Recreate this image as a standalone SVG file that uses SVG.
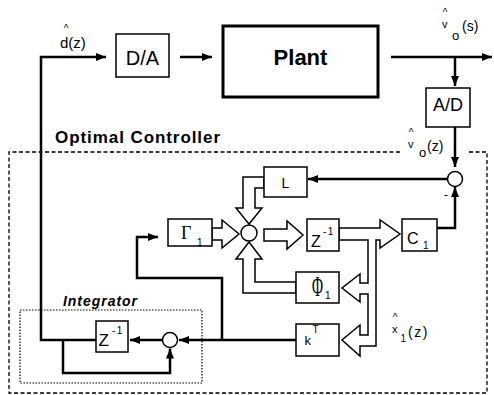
<svg xmlns="http://www.w3.org/2000/svg" width="494" height="395" viewBox="0 0 494 395">
<defs>
<style>
.box{fill:#fff;stroke:#000;stroke-width:1.5}
.thick{fill:none;stroke:#000;stroke-width:2.5}
.hollow{fill:#fff;stroke:#000;stroke-width:1.5;stroke-linejoin:miter}
.sum{fill:#fff;stroke:#000;stroke-width:1.5}
.t{font-family:"Liberation Sans",Arial,sans-serif;fill:#000}
.s{font-family:"Liberation Serif","Times New Roman",serif;fill:#000}
.c{text-anchor:middle}
.hat{font-family:"Liberation Sans",Arial,sans-serif;fill:#000;font-size:10px;text-anchor:middle}
</style>
<marker id="ah" viewBox="0 0 10 8" refX="10" refY="4" markerWidth="10" markerHeight="8" markerUnits="userSpaceOnUse" orient="auto">
<path d="M0,0 L10,4 L0,8 z" fill="#000"/>
</marker>
</defs>
<rect width="494" height="395" fill="#fff"/>

<g id="frames">
<path d="M400,152 H9 V393 H487 V152 H467" fill="none" stroke="#000" stroke-width="1.3" stroke-dasharray="4 2.5"/>
<rect x="20" y="310" width="182" height="73" fill="none" stroke="#000" stroke-width="1.2" stroke-dasharray="1.5 1.5"/>
<text class="t" x="55" y="143" font-size="17" font-weight="bold" textLength="165" lengthAdjust="spacing">Optimal Controller</text>
<text class="t" x="63" y="306" font-size="14" font-weight="bold" font-style="italic" textLength="74" lengthAdjust="spacing">Integrator</text>
</g>

<g id="connectors">
<path class="thick" d="M96,340 H41 V57 H106" marker-end="url(#ah)"/>
<path class="thick" d="M180,57 H212" marker-end="url(#ah)"/>
<path class="thick" d="M391,57 H492" marker-end="url(#ah)"/>
<path class="thick" d="M455,57 V86" marker-end="url(#ah)"/>
<path class="thick" d="M455,127 V167" marker-end="url(#ah)"/>
<path class="thick" d="M447.5,179 H308" marker-end="url(#ah)"/>
<path class="thick" d="M437,228 H455 V187" marker-end="url(#ah)"/>
<path class="thick" d="M296,340 H179" marker-end="url(#ah)"/>
<path class="thick" d="M222,340 V278 H137 V237 H158" marker-end="url(#ah)"/>
<path class="thick" d="M162.5,340 H130" marker-end="url(#ah)"/>
<path class="thick" d="M63,340 V373 H170 V348.5" marker-end="url(#ah)"/>
<polygon class="hollow" points="212,228 222,228 222,220 239,234 222,248 222,240 212,240"/>
<polygon class="hollow" points="264,229 287,229 287,221 303,235 287,249 287,241 264,241"/>
<polygon class="hollow" points="264,177 243,177 243,208 236,208 249,224 262,208 255,208 255,188 264,188"/>
<polygon class="hollow" points="296,282 255,282 255,259 262,259 249,242 236,259 243,259 243,293 296,293"/>
<polygon class="hollow" points="339,228 380,228 380,220 400,234 380,248 380,240 376,240 376,346 360,346 360,356 342,340 360,325 360,335 368,335 368,294 360,294 360,302 342,288 360,274 360,283 368,283 368,240 339,240"/>
</g>

<g id="da">
<rect class="box" x="116" y="34" width="53" height="43"/>
<text class="t c" x="142.5" y="65" font-size="20">D/A</text>
</g>
<g id="plant">
<rect x="223" y="26" width="155" height="71" fill="#fff" stroke="#000" stroke-width="3"/>
<text class="t c" x="300.5" y="65" font-size="22" font-weight="bold">Plant</text>
</g>
<g id="ad">
<rect class="box" x="426" y="88" width="44" height="39"/>
<text class="t c" x="448" y="111" font-size="18">A/D</text>
</g>
<g id="sum_out">
<circle class="sum" cx="455" cy="179" r="7.5"/>
<text class="t" x="444" y="199" font-size="12">-</text>
</g>
<g id="L">
<rect class="box" x="264" y="167" width="43" height="30"/>
<text class="t c" x="285.5" y="188" font-size="14">L</text>
</g>
<g id="gamma1">
<rect class="box" x="168" y="219" width="44" height="27"/>
<text class="s" x="181" y="238.5" font-size="18">Γ</text>
<text class="t" x="197" y="246" font-size="10">1</text>
</g>
<g id="sum_mid">
<circle class="sum" cx="249" cy="233" r="8"/>
</g>
<g id="zinv_mid">
<rect class="box" x="307" y="219" width="32" height="32"/>
<text class="t" x="311" y="247" font-size="16">Z</text>
<text class="t" x="323" y="235" font-size="10" letter-spacing="1.5">-1</text>
</g>
<g id="c1">
<rect class="box" x="402" y="219" width="35" height="32"/>
<text class="t" x="407" y="243.5" font-size="16">C</text>
<text class="t" x="423" y="249" font-size="10">1</text>
</g>
<g id="phi1">
<rect class="box" x="296" y="272" width="43" height="31"/>
<text class="s c" transform="translate(317.5,296) scale(0.5,1)" x="0" y="0" font-size="30">Φ</text>
<text class="t" x="325" y="299" font-size="10">1</text>
</g>
<g id="kT">
<rect class="box" x="296" y="324" width="43" height="32"/>
<text class="t" x="304.5" y="345" font-size="13">k</text>
<text class="t" x="312.5" y="333" font-size="10">T</text>
</g>
<g id="sum_int">
<circle class="sum" cx="170" cy="340" r="7.5"/>
</g>
<g id="zinv_int">
<rect class="box" x="96" y="321" width="32" height="31"/>
<text class="t" x="98.5" y="345.5" font-size="17">Z</text>
<text class="t" x="112" y="334" font-size="10" letter-spacing="1.5">-1</text>
</g>

<g id="labels">
<text class="hat" x="66" y="32">^</text>
<text class="t" x="60" y="48" font-size="15">d(z)</text>
<text class="hat" x="445" y="15.5">^</text>
<text class="t" x="442" y="28" font-size="11">v</text>
<text class="t" x="452" y="40" font-size="13">o</text>
<text class="t" x="462" y="30.5" font-size="14">(s)</text>
<text class="hat" x="411" y="135.5">^</text>
<text class="t" x="408" y="148" font-size="11">v</text>
<text class="t" x="419" y="157" font-size="13">o</text>
<text class="t" x="427" y="151" font-size="14">(z)</text>
<text class="hat" x="395" y="320.5">^</text>
<text class="t" x="392" y="333" font-size="11">x</text>
<text class="t" x="400.5" y="342" font-size="10">1</text>
<text class="t" x="408" y="336.5" font-size="14" letter-spacing="1.5">(z)</text>
</g>
</svg>
